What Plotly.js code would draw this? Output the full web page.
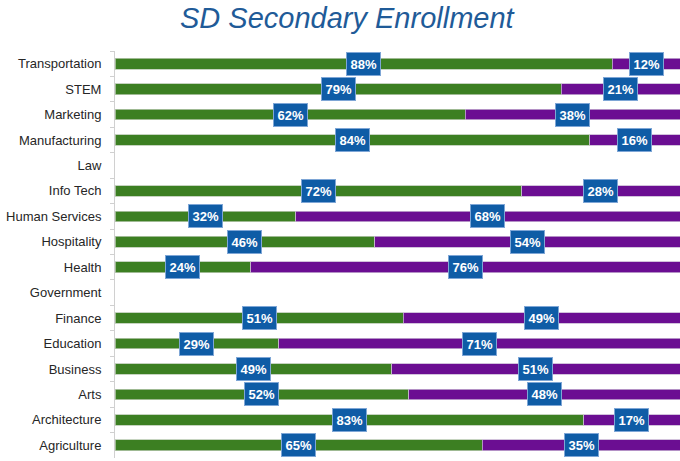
<!DOCTYPE html>
<html>
<head>
<meta charset="utf-8">
<script src="https://cdn.plot.ly/plotly-3.0.1.min.js"></script>
<style>html,body{margin:0;padding:0;background:#fff;}#chart{width:680px;height:461px;}</style>
</head>
<body>
<div id="chart"></div>
<script>
var categories = ["Transportation","STEM","Marketing","Manufacturing","Law","Info Tech","Human Services","Hospitality","Health","Government","Finance","Education","Business","Arts","Architecture","Agriculture"];
var greenValues = [88,79,62,84,null,72,32,46,24,null,51,29,49,52,83,65];
var purpleValues = [12,21,38,16,null,28,68,54,76,null,49,71,51,48,17,35];

var green = '#3c7f22', purple = '#6b0e92';
var traces = [
  {type:'bar', orientation:'h', y:categories, x:greenValues, name:'Secondary A',
   marker:{color:green, line:{color:'#b8c9b0', width:0.8}}, width:0.42, hoverinfo:'none'},
  {type:'bar', orientation:'h', y:categories, x:purpleValues, name:'Secondary B',
   marker:{color:purple, line:{color:'#c7b3d3', width:0.8}}, width:0.42, hoverinfo:'none'}
];

var annotations = [];
categories.forEach(function(c,i){
  var g = greenValues[i], p = purpleValues[i];
  if (g == null) return;
  [[g/2, g],[g + p/2, p]].forEach(function(a){
    annotations.push({x:a[0], y:c, xref:'x', yref:'y', text:a[1]+'%', showarrow:false,
      font:{family:'Liberation Sans, Arial, sans-serif', size:13, color:'#ffffff', weight:'bold'},
      bgcolor:'#0f5ca6', bordercolor:'#7ea6d6', borderwidth:1, borderpad:3.5});
  });
});

var layout = {
  width:680, height:461,
  margin:{l:115, r:0, t:51, b:3},
  paper_bgcolor:'#ffffff', plot_bgcolor:'#ffffff',
  barmode:'stack', showlegend:false,
  title:{text:'<i>SD Secondary Enrollment</i>', x:0.51, xref:'container', y:0.962, yref:'container', yanchor:'middle',
    font:{family:'Liberation Sans, Arial, sans-serif', size:29, color:'#1f5b98'}},
  xaxis:{range:[0,100], showgrid:false, zeroline:false, showticklabels:false, showline:false, fixedrange:true},
  yaxis:{type:'category', autorange:'reversed', showgrid:false, zeroline:false, showline:true, linecolor:'#d0d0d0', linewidth:1,
    ticks:'outside', tickson:'boundaries', ticklen:4, tickcolor:'#d0d0d0',
    tickfont:{family:'Liberation Sans, Arial, sans-serif', size:13, color:'#262626'}, ticklabelstandoff:10},
  annotations:annotations
};
Plotly.newPlot('chart', traces, layout, {staticPlot:true, displayModeBar:false});
</script>
</body>
</html>
